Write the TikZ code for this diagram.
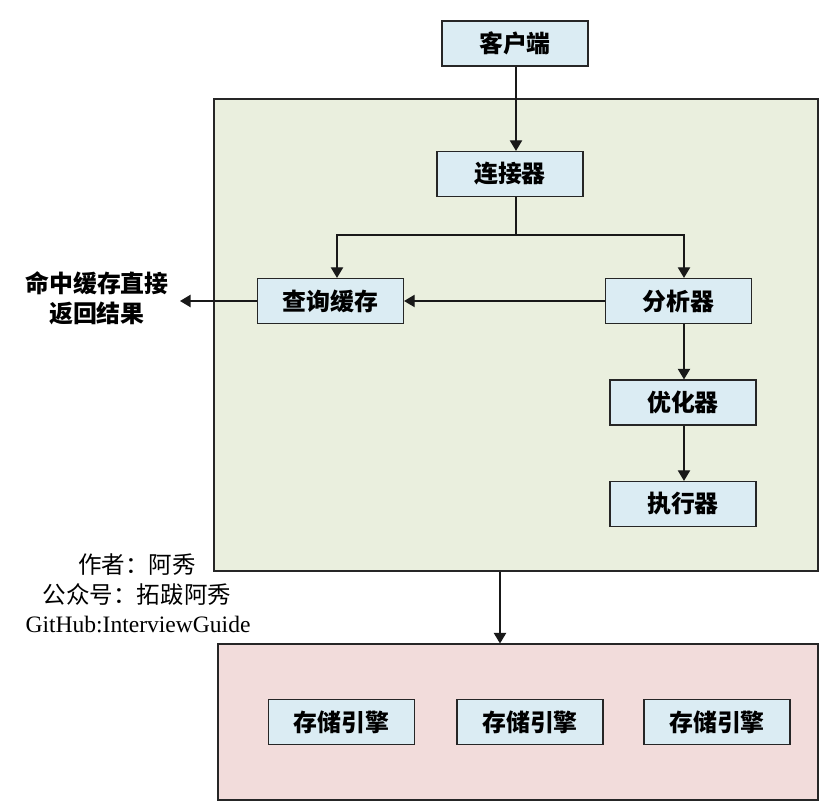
\documentclass[tikz,border=0pt]{standalone}
\usepackage{fontspec}
\setmainfont{Liberation Serif}
\newfontfamily\cjk{Noto Sans CJK SC}
\usetikzlibrary{arrows.meta}
\definecolor{boxblue}{RGB}{219,236,243}
\definecolor{areagreen}{RGB}{234,239,222}
\definecolor{areapink}{RGB}{242,220,219}
\tikzset{
    module/.style={draw=black!85, line width=0.7pt, fill=boxblue, minimum width=2.92cm, minimum height=0.9cm, inner sep=0pt, font=\cjk\bfseries\fontsize{13.6}{15}\selectfont},
    area/.style={draw=black!85, line width=0.6pt, inner sep=0pt},
    link/.style={-{Triangle[length=6pt,width=7pt]}, line width=0.7pt, black!90},
    note/.style={inner sep=0pt, font=\cjk\fontsize{13.4}{15}\selectfont}
}
\begin{document}
\begin{tikzpicture}
    \useasboundingbox (0,0) rectangle (16.5,16.2);
    % areas
    \node[area, fill=areagreen, minimum width=12.08cm, minimum height=9.44cm] (server) at (10.32,9.5) {};
    \node[area, fill=areapink, minimum width=12cm, minimum height=3.12cm] (engine) at (10.36,1.76) {};
    % modules
    \node[module] (client) at (10.3,15.33) {客户端};
    \node[module] (connector) at (10.2,12.72) {连接器};
    \node[module] (cache) at (6.61,10.18) {查询缓存};
    \node[module] (parser) at (13.57,10.18) {分析器};
    \node[module] (optimizer) at (13.66,8.15) {优化器};
    \node[module] (executor) at (13.66,6.12) {执行器};
    \node[module] (store1) at (6.83,1.76) {存储引擎};
    \node[module] (store2) at (10.6,1.76) {存储引擎};
    \node[module] (store3) at (14.34,1.76) {存储引擎};
    % texts
    \node[inner sep=0pt, align=center, font=\cjk\bfseries\fontsize{13.6}{17}\selectfont] (hit) at (1.94,10.24) {命中缓存直接\\返回结果};
    \node[note] (author) at (2.74,4.9) {作者：阿秀};
    \node[note] (wechat) at (2.74,4.3) {公众号：拓跋阿秀};
    \node[inner sep=0pt, font=\fontsize{13.4}{15}\selectfont] (github) at (2.76,3.7) {GitHub:InterviewGuide};
    % links
    \coordinate (mainline) at (10.32,11.5);
    \coordinate (cacheline) at (6.74,11.5);
    \coordinate (parserline) at (13.68,11.5);
    \coordinate (engineline) at (10,11.5);
    \coordinate (hitend) at (3.6,10.18);
    \draw[link] (mainline |- client.south) -- (mainline |- connector.north);
    \draw[line width=0.7pt, black!90] (mainline |- connector.south) -- (mainline);
    \draw[link] (mainline) -| (cacheline |- cache.north);
    \draw[link] (mainline) -| (parserline |- parser.north);
    \draw[link] (parser) -- (cache);
    \draw[link] (cache) -- (hitend);
    \draw[link] (parserline |- parser.south) -- (parserline |- optimizer.north);
    \draw[link] (parserline |- optimizer.south) -- (parserline |- executor.north);
    \draw[link] (engineline |- server.south) -- (engineline |- engine.north);
\end{tikzpicture}
\end{document}
